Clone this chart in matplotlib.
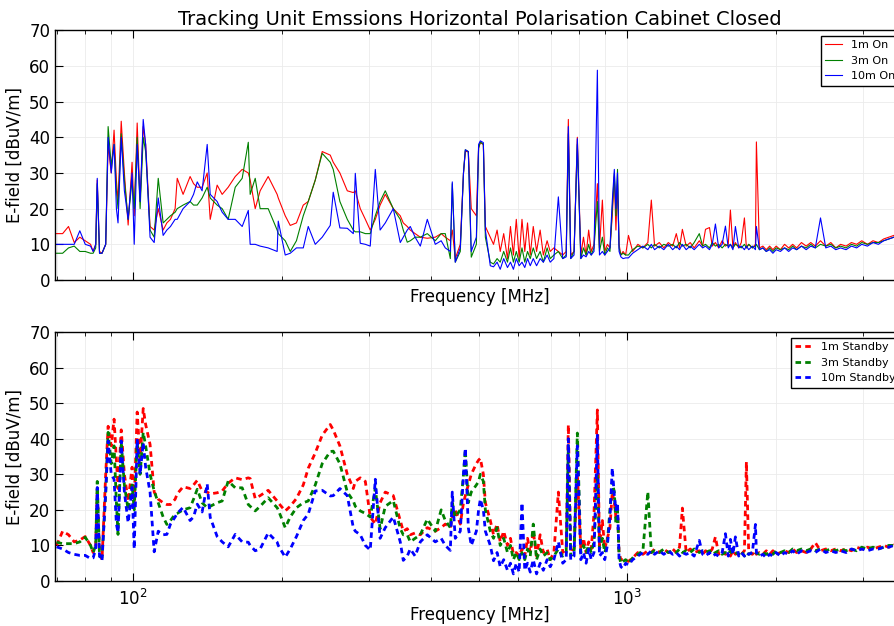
import numpy as np
import matplotlib
matplotlib.use("Agg")
import matplotlib.pyplot as plt

plt.rcParams.update({
    "font.family": "DejaVu Sans", "font.size": 12, "axes.linewidth": 1.0,
    "xtick.direction": "in", "ytick.direction": "in",
    "xtick.top": True, "ytick.right": True,
})

# shared frequency grid (MHz), split by band
FREQ_A = [70, 72, 74, 76, 78, 80, 82, 83, 84, 84.6,
          85.5, 86.5, 88, 89, 90.3, 91.5, 92.5, 93.2, 94.6, 96,
          97.7, 99.5, 100.5, 101.9, 103.3, 104.8, 106, 108.2, 110.3, 112.4,
          115, 117, 119, 121.6, 122.8, 126.2, 130.4, 132.5, 134.8, 137.9,
          141.2, 143.2, 147.9, 151.4, 155.7, 160.9]
FREQ_B = [166.2, 171, 172.5, 176.6, 180.7, 187.6, 195.6, 196.6, 203.1, 207.9,
          214, 220.9, 226.1, 233.6, 241.3, 250.5, 254, 262, 271.2, 278.9,
          281.5, 288.1, 295, 301.8, 309, 316, 323.7, 336, 347.1, 352,
          358.6, 363.7, 372, 381.1, 393.7, 408.6, 420, 428.1, 438.3, 442.3,
          448.5, 459.1, 466, 470, 476.6, 483.2, 494.8, 500, 504.1, 511.2,
          516]
FREQ_C = [528, 536, 545, 553, 562, 572, 580, 588, 596, 604,
          612, 620, 628, 636, 645, 655, 666, 676, 688, 698,
          710, 725, 740, 752, 759.5, 768, 780, 792, 805, 815,
          825, 835, 845, 856, 869.5, 878, 890, 900, 911, 922,
          932, 941, 948, 955, 962, 970, 980, 992]
FREQ_D = [1005, 1025, 1050, 1075, 1100, 1118, 1135, 1160, 1185, 1210,
          1235, 1256, 1275, 1292, 1315, 1340, 1365, 1398, 1420, 1439,
          1466, 1485, 1507, 1530, 1555, 1579, 1600, 1616, 1635, 1654,
          1680, 1700, 1725, 1741, 1760, 1790, 1816, 1824, 1850, 1880,
          1910, 1940, 1970, 2000, 2040, 2080, 2120, 2160, 2200, 2250,
          2300, 2350, 2400, 2459, 2520, 2580, 2640, 2700, 2770, 2840,
          2910, 2980, 3060, 3140, 3220, 3300, 3380, 3460, 3550, 3650]

# ---- unit on (dBuV/m) ----
on1_a = [13, 13, 15, 10.5, 12, 11, 10, 8, 10, 28,
         8, 7.5, 10, 38, 30, 42, 28, 22, 44.5, 30,
         15.4, 33, 18, 44, 22, 43, 38, 15, 14, 20,
         14, 16, 17, 20, 28.5, 24, 29, 27, 26, 26,
         30, 17, 26.6, 24, 26, 29]
on1_b = [31, 30, 28, 20, 25, 29, 24, 23, 18, 15.3,
         16, 21, 22, 28, 36, 35, 33, 30, 25, 24.5,
         25, 20, 17, 14, 17, 21, 24, 20, 18, 16,
         15, 14, 13, 12, 11.7, 12, 13, 12, 11, 14,
         6, 10, 30, 36, 36, 20, 18, 37, 38.5, 38,
         15]
on1_c = [12, 10, 14, 8, 13, 6, 15, 7, 17, 6,
         17, 8, 16, 7, 15, 8, 14, 7, 11, 8,
         9, 8, 7, 8, 45, 7, 8, 40, 7, 12,
         7, 14, 8, 10, 27, 9, 22.4, 8, 10, 9,
         18, 29, 14, 27, 10, 7, 8, 7]
on1_d = [12.5, 8, 10, 9, 10.5, 22.4, 9.5, 10.5, 9, 10.5,
         9.5, 13, 9, 14.2, 9.5, 10.5, 9, 11, 9.5, 14.2,
         14.7, 9.5, 10.5, 9, 11, 9.5, 10, 19.6, 9, 10.5,
         9, 10.5, 17.4, 9, 10, 9, 10, 38.7, 9, 9.5,
         8.5, 9.5, 8.5, 9.5, 8.5, 10, 9, 10, 9, 10.5,
         9.5, 10.5, 9.5, 11, 9.5, 10.5, 9, 10, 9.5, 10.5,
         10, 11, 10, 11, 10.5, 11.5, 12, 12.5, 13, 13]

on3_a = [7.5, 7.5, 9, 9.5, 8, 8, 7.5, 7.5, 9, 27,
         7.5, 7.5, 10, 43, 32, 38, 25, 20, 41, 28,
         17, 28, 20, 40, 20, 40, 36, 14, 12, 28.5,
         16, 17, 18, 19, 20, 21, 22, 21, 21, 23,
         26, 23, 21, 20, 17, 26]
on3_b = [28.5, 38.6, 24, 28.5, 20, 20, 14, 13, 11, 8,
         11, 18, 22, 28, 35.5, 33, 31, 22, 17, 14,
         13.5, 13.5, 13, 13, 18, 22, 25, 20, 17, 14,
         10.6, 11, 12, 12, 13, 11, 13, 13, 6, 27,
         5, 8, 30, 36.5, 36, 6.4, 10, 37, 38.7, 38,
         12]
on3_c = [5, 4.5, 6, 5, 8, 5, 9, 5, 8, 5,
         9, 5, 8, 6, 9, 6, 8, 5, 9, 6,
         7, 8, 6, 7, 41, 6, 8, 38, 6, 9,
         7, 10, 7, 9, 22, 8, 12, 7, 9, 8,
         20, 30, 18, 31, 9, 7, 7.5, 7]
on3_d = [7, 8.5, 9.5, 9, 10, 9, 10, 9, 10, 9.5,
         10, 9, 10.5, 9.5, 10, 9, 10.5, 13, 9.5, 10,
         9, 10.5, 9.5, 10, 9, 10, 9.5, 10, 9, 10,
         9.5, 9, 10, 9, 10, 9, 9.5, 10, 8.5, 9,
         8, 9, 8, 9, 8.5, 9, 8.5, 9.5, 8.5, 9.5,
         9, 10, 9, 10, 9.5, 10, 9, 9.5, 9, 10,
         9.5, 10.5, 10, 10.5, 10.5, 11, 11.5, 12, 12.5, 13]

on10_a = [10, 10, 10, 10, 13.8, 10, 9.5, 8, 10, 28.5,
          7.5, 7.5, 10, 40, 30, 38, 20, 16, 40, 25,
          17, 30, 10, 38, 22, 45, 38, 12, 10.5, 23,
          12.5, 14, 15, 17, 17, 20, 22, 24, 27.5, 25,
          38, 24, 22, 19, 17, 17]
on10_b = [15, 19.5, 10, 10, 9.5, 9, 8, 16.5, 7, 7.5,
          9, 9, 15, 10, 12, 15.3, 24.6, 14.6, 14.5, 13,
          29.9, 10.3, 10, 9.5, 31, 14, 16, 20, 10.5, 12,
          14, 15, 12, 9.5, 17, 10, 11, 9, 8, 27.5,
          5, 9, 30, 36.5, 36, 8, 12, 38, 39, 38.5,
          14]
on10_c = [4, 3.7, 5, 3, 6, 3.5, 5, 3, 6, 4,
          5, 3.5, 6, 4, 6, 4, 6, 5, 7, 5,
          6, 23.3, 6, 6.5, 43, 6, 7, 39.6, 6, 7,
          6.5, 8, 7, 8, 58.8, 7, 8, 7, 8, 9,
          22, 31, 20, 30, 8, 6.5, 6, 6.2]
on10_d = [6.2, 7.5, 8.5, 9.5, 8.5, 10, 8.5, 9.5, 8.5, 10,
          8.5, 9.5, 8.5, 10, 8.5, 9.5, 8.5, 10, 9, 9.5,
          8.5, 10, 15.7, 9, 10, 15.1, 9, 10, 8.5, 15,
          9, 9.5, 8.5, 9.5, 8.5, 9.5, 8.5, 15, 8.5, 9,
          8, 8.5, 7.5, 8.5, 8, 9, 8, 9, 8.5, 9.5,
          8.5, 9.5, 9, 17.4, 9, 9.5, 8.5, 9, 8.5, 9.5,
          9, 10, 9.5, 10.5, 10, 11, 11.5, 12, 12.5, 13.5]

# ---- standby (dBuV/m) ----
sb1_a = [10, 14, 13, 11, 11.5, 12.5, 10, 8, 10, 25,
         8, 6, 30, 43.5, 38, 45.5, 34, 26, 42.5, 30,
         22.4, 32, 22, 47.5, 34, 48.5, 44, 38.4, 25, 23,
         22, 21.5, 21.5, 23, 24.5, 26.5, 26, 27, 28.3, 25.3,
         25, 24.5, 24.8, 25.3, 27.5, 29]
sb1_b = [28.5, 29, 28.8, 23.2, 24, 25.5, 22.5, 22, 19.7, 21,
         23.2, 27, 31.7, 36, 41, 44, 42.5, 38, 30, 26,
         28, 29, 28, 18, 16, 22, 25, 24, 17, 14,
         14.7, 13, 13.5, 13, 15, 14, 15, 16, 15, 18,
         20, 16, 22, 24, 27, 30, 33, 34, 34.5, 30,
         22]
sb1_c = [17, 13, 16, 11, 14, 10, 12, 7.5, 8, 7,
         9, 7, 12, 8, 14, 7, 13, 8, 9, 6,
         8, 25, 8, 9, 43.9, 8, 9, 30, 9, 12,
         8, 11, 9, 19, 48.1, 10, 17, 9, 12, 15,
         25, 22, 18, 20, 8, 6, 6, 6]
sb1_d = [5.5, 6.5, 8, 7.5, 8.5, 8, 9, 8, 9, 8,
         9, 8, 9.5, 20.5, 8, 9, 8, 8.5, 7.5, 8.5,
         8, 9, 12.4, 7.5, 8.5, 7.5, 8, 7, 8.5, 7.5,
         8, 7.5, 8.5, 33.5, 8, 7.5, 8.5, 7.5, 8, 7.5,
         8.5, 7.5, 8.5, 7.5, 8, 8.5, 8, 9, 8, 8.5,
         8, 9, 10.8, 8.5, 9, 8.5, 9, 8.5, 9, 8.5,
         9.5, 9, 9.5, 9, 9.5, 10, 9.5, 10, 11.5, 12]

sb3_a = [10.9, 10.5, 10.5, 10.5, 11, 12.3, 10, 8, 10, 28,
         7, 6.6, 25, 41.8, 33, 38, 22, 13.1, 39, 27,
         20, 27, 20, 39, 30, 41.8, 38, 30, 25.3, 22,
         18, 15.9, 17, 18.8, 19, 20, 20.6, 23, 25.8, 22,
         20.6, 21, 22, 22.5, 28.1, 26.2]
sb3_b = [26.2, 21.5, 21, 19.7, 21, 23.4, 20.6, 20, 15, 18,
         20.6, 22, 22.5, 27, 33, 36.4, 36.5, 33, 25, 22.5,
         21, 19.7, 19, 18, 26, 14.7, 21, 22.6, 14.7, 13,
         13, 11, 12, 13, 17.4, 14, 20, 17, 15, 22,
         18, 20, 30, 37, 22, 25, 27, 28, 30, 28,
         20]
sb3_c = [14, 12, 15, 10, 12, 8, 10, 6, 8, 6,
         8, 6, 9, 7, 16, 6, 9, 7, 8, 6,
         7, 9, 7, 8, 38, 7, 8, 41.6, 8, 10,
         8, 10, 8, 11, 30, 9, 12, 8, 11, 20,
         28, 25, 16, 20, 7, 5, 5.5, 6]
sb3_d = [5, 6.5, 7.5, 8.5, 25.1, 8, 8.5, 8, 9, 8,
         8.5, 8, 9, 8, 8.5, 8, 9, 8, 8.5, 8,
         8.5, 7.5, 8, 8.5, 7.5, 8, 7.5, 8.5, 7.5, 8,
         7.5, 8.5, 7, 8, 7.5, 8, 7.5, 8, 7.5, 8,
         7.5, 8, 7.5, 8.5, 8, 8.5, 8, 9, 8.5, 9,
         8.5, 9, 8.5, 9, 8.5, 9, 8.5, 9, 8.5, 9,
         8.5, 9.5, 9, 9.5, 9, 9.5, 10, 10, 11, 12]

sb10_a = [9.6, 9, 8, 7.5, 7.2, 7.2, 6.3, 6.5, 9, 26.3,
          7, 5.7, 25, 39.4, 30, 28.6, 16, 13.6, 39.4, 25,
          16.4, 26.3, 9, 39.9, 30, 38.9, 32, 25, 8.2, 14,
          13, 13.1, 16, 18, 19, 20.7, 17, 18, 21.6, 19.4,
          27.3, 17.9, 12.5, 11, 9.6, 13.1]
sb10_b = [11, 10.9, 10, 8.5, 9, 13.5, 10.9, 10, 6.7, 9,
          12.5, 17, 18.8, 25.3, 25.5, 23.9, 24, 26, 24, 15,
          14, 13, 10, 8.7, 28.6, 12, 15, 18, 11, 5.8,
          7, 9, 7, 11, 13, 11, 12, 10, 8.6, 25,
          12, 14, 30, 37.4, 15, 10, 14, 20, 23, 20,
          14]
sb10_c = [10, 5.7, 8, 4, 6, 3, 5, 2, 5, 2.5,
          22, 3, 5, 2.5, 6, 2, 5, 3, 6, 4,
          6, 11, 5, 6, 40, 6, 7, 38, 6, 8,
          5, 9, 6, 8, 41, 7, 8, 6, 10, 18,
          31.8, 24, 20, 22, 6, 4, 3.5, 5]
sb10_d = [4.5, 6, 7, 8, 7.5, 8.5, 7.5, 8.5, 7.5, 8.5,
          7.5, 8, 7, 8, 7.5, 8, 7, 11.4, 7.5, 7,
          8, 7, 7.5, 7, 8, 13.3, 7, 11.7, 7.5, 12.4,
          7, 8, 7, 8, 7.5, 8, 15.9, 8, 7, 7.5,
          6.5, 7.5, 7, 8, 7, 8, 7.5, 8.5, 7.5, 8.5,
          8, 8.5, 8, 9, 8, 8.5, 8, 8.5, 8, 9,
          8.5, 9, 8.5, 9, 9, 9.5, 9.5, 10, 11, 12]

YTICKS = [0, 10, 20, 30, 40, 50, 60, 70]


def join(*parts):
    return np.concatenate([np.asarray(p, dtype=float) for p in parts])


def style_ax(ax):
    ax.set_xscale("log")
    ax.set_xlim(69.5, 3650)
    ax.set_ylim(0, 70)
    ax.set_yticks(YTICKS)
    ax.tick_params(axis="both", which="major", labelsize=12, length=6)
    ax.tick_params(axis="both", which="minor", length=3)
    ax.tick_params(axis="x", which="major", pad=6)
    ax.grid(True, which="both", color="0.92", linewidth=0.6)
    ax.set_axisbelow(True)
    ax.set_xlabel("Frequency [MHz]", fontsize=12)
    ax.set_ylabel("E-field [dBuV/m]", fontsize=12)


freq = join(FREQ_A, FREQ_B, FREQ_C, FREQ_D)
on_series = [(join(on1_a, on1_b, on1_c, on1_d), "1m On", "r"),
             (join(on3_a, on3_b, on3_c, on3_d), "3m On", "g"),
             (join(on10_a, on10_b, on10_c, on10_d), "10m On", "b")]
sb_series = [(join(sb1_a, sb1_b, sb1_c, sb1_d), "1m Standby", "r"),
             (join(sb3_a, sb3_b, sb3_c, sb3_d), "3m Standby", "g"),
             (join(sb10_a, sb10_b, sb10_c, sb10_d), "10m Standby", "b")]

fig = plt.figure(figsize=(8.95, 6.26), dpi=100)
ax1 = fig.add_axes([0.0615, 0.5527, 0.95, 0.399])
ax2 = fig.add_axes([0.0615, 0.0719, 0.95, 0.3977])

for vals, label, color in on_series:
    ax1.plot(freq, vals, color=color, linewidth=0.8, label=label)
for vals, label, color in sb_series:
    ax2.plot(freq, vals, color=color, linewidth=2.0, linestyle=(0, (2, 1.5)), label=label)

for ax in (ax1, ax2):
    style_ax(ax)
    leg = ax.legend(loc="upper right", fontsize=8, fancybox=False, framealpha=1,
                    edgecolor="black", handlelength=1.5)
    leg.get_frame().set_linewidth(1.0)

ax1.tick_params(axis="x", which="both", labelbottom=False)
ax1.xaxis.set_label_coords(0.5, -0.03)
ax2.xaxis.set_label_coords(0.5, -0.1)
ax1.set_title("Tracking Unit Emssions Horizontal Polarisation Cabinet Closed",
              fontsize=14, pad=4)

fig.savefig("out.png", dpi=100, facecolor="white")
